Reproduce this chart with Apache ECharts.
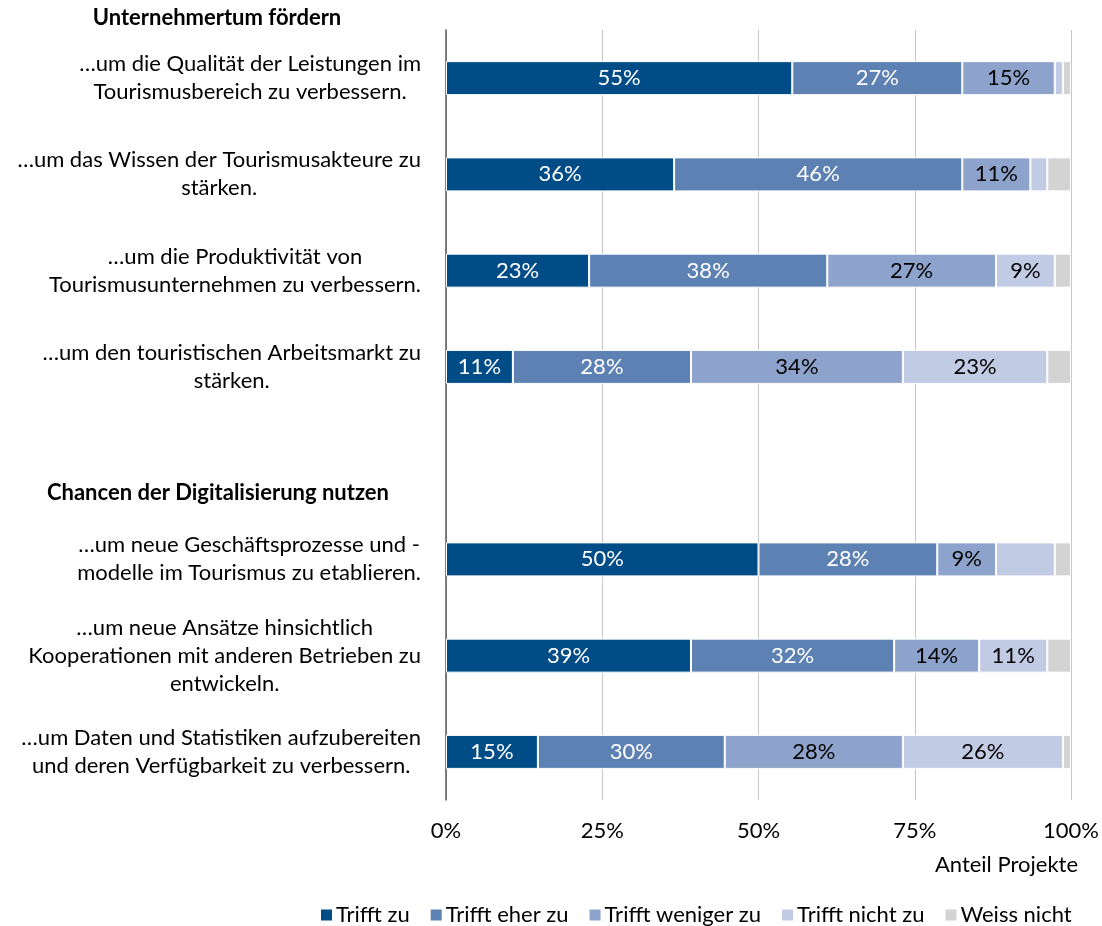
<!DOCTYPE html>
<html>
<head>
<meta charset="utf-8">
<script src="https://cdn.jsdelivr.net/npm/echarts@6/dist/echarts.min.js"></script>
<style>
  html, body { margin: 0; padding: 0; background: #fff; }
  #main { width: 1102px; height: 926px; }
</style>
</head>
<body>
<div id="main"></div>
<script>
// Kategorien (leere Zeile trennt die beiden Gruppen)
const categories = [
  '…um die Qualität der Leistungen im\nTourismusbereich zu verbessern.',
  '…um das Wissen der Tourismusakteure zu\nstärken.',
  '…um die Produktivität von\nTourismusunternehmen zu verbessern.',
  '…um den touristischen Arbeitsmarkt zu\nstärken.',
  '',
  '…um neue Geschäftsprozesse und -\nmodelle im Tourismus zu etablieren.',
  '…um neue Ansätze hinsichtlich\nKooperationen mit anderen Betrieben zu\nentwickeln.',
  '…um Daten und Statistiken aufzubereiten\nund deren Verfügbarkeit zu verbessern.'
]
const groupTitles = ['Unternehmertum fördern', 'Chancen der Digitalisierung nutzen']
const seriesNames = ['Trifft zu', 'Trifft eher zu', 'Trifft weniger zu', 'Trifft nicht zu', 'Weiss nicht']

// Anteile in %
const trifftZu = [55.4, 36.5, 22.9, 10.7, null, 50.0, 39.2, 14.7]
const trifftEher = [27.2, 46.1, 38.1, 28.5, null, 28.6, 32.5, 29.9]
const trifftWeniger = [14.8, 10.9, 27.0, 33.9, null, 9.4, 13.6, 28.5]
const trifftNicht = [1.3, 2.7, 9.4, 23.1, null, 9.4, 10.9, 25.6]
const weissNicht = [1.3, 3.8, 2.6, 3.8, null, 2.6, 3.8, 1.3]

// Beschriftungen wie im Original
const lblZu = ['55%', '36%', '23%', '11%', '', '50%', '39%', '15%']
const lblEher = ['27%', '46%', '38%', '28%', '', '28%', '32%', '30%']
const lblWeniger = ['15%', '11%', '27%', '34%', '', '9%', '14%', '28%']
const lblNicht = ['', '', '9%', '23%', '', '', '11%', '26%']
const lblWeiss = ['', '', '', '', '', '', '', '']

const xTicks = [0, 25, 50, 75, 100]

const colors = ['#004c87', '#5d81b3', '#8ea3cb', '#c1cbe4', '#d3d3d3']
const font = 'Lato'
const fs = 22

const chart = echarts.init(document.getElementById('main'))

function makeSeries(name, data, labels, color, labelColor) {
  return {
    name: name,
    type: 'bar',
    stack: 'total',
    barWidth: 34,
    data: data,
    itemStyle: { color: color, borderColor: '#fff', borderWidth: 1 },
    label: {
      show: true,
      position: 'inside',
      color: labelColor,
      fontFamily: font,
      fontSize: fs,
      formatter: p => labels[p.dataIndex]
    },
    emphasis: { disabled: true }
  }
}

const option = {
  animation: false,
  color: colors,
  grid: { left: 446, right: 31, top: 30, bottom: 126, containLabel: false },
  xAxis: {
    type: 'value',
    min: 0,
    max: 100,
    interval: 25,
    name: 'Anteil Projekte',
    nameLocation: 'end',
    nameGap: 7,
    nameTextStyle: {
      fontFamily: font,
      fontSize: fs,
      color: '#000',
      align: 'right',
      verticalAlign: 'top',
      padding: [54, 0, 0, 0]
    },
    axisLine: { show: false },
    axisTick: { show: false },
    axisLabel: {
      margin: 20,
      fontFamily: font,
      fontSize: fs,
      color: '#000',
      formatter: v => (xTicks.includes(v) ? v + '%' : '')
    },
    splitLine: { show: true, lineStyle: { color: '#c8c8c8', width: 1 } }
  },
  yAxis: {
    type: 'category',
    inverse: true,
    data: categories,
    axisLine: { show: true, lineStyle: { color: '#595959', width: 1.5 } },
    axisTick: { show: false },
    axisLabel: {
      margin: 25,
      fontFamily: font,
      fontSize: fs,
      color: '#000',
      lineHeight: 28,
      formatter: v => v.split('\n').map(l => '{c|' + l + '}').join('\n'),
      rich: {
        c: { align: 'center', fontFamily: font, fontSize: fs, color: '#000', lineHeight: 28 }
      }
    }
  },
  legend: {
    left: 314,
    top: 899,
    itemWidth: 13,
    itemHeight: 13,
    itemGap: 19,
    icon: 'rect',
    textStyle: { fontFamily: font, fontSize: fs, color: '#000', padding: [0, 0, 0, -2] },
    data: seriesNames
  },
  graphic: [
    {
      type: 'text',
      x: 217,
      y: 18,
      style: { text: groupTitles[0], fontFamily: font, fontSize: 22, fontWeight: 'bold', fill: '#000', align: 'center', verticalAlign: 'middle' }
    },
    {
      type: 'text',
      x: 218,
      y: 493,
      style: { text: groupTitles[1], fontFamily: font, fontSize: 22, fontWeight: 'bold', fill: '#000', align: 'center', verticalAlign: 'middle' }
    }
  ],
  series: [
    makeSeries(seriesNames[0], trifftZu, lblZu, colors[0], '#fff'),
    makeSeries(seriesNames[1], trifftEher, lblEher, colors[1], '#fff'),
    makeSeries(seriesNames[2], trifftWeniger, lblWeniger, colors[2], '#000'),
    makeSeries(seriesNames[3], trifftNicht, lblNicht, colors[3], '#000'),
    makeSeries(seriesNames[4], weissNicht, lblWeiss, colors[4], '#000')
  ]
}

chart.setOption(option)
</script>
</body>
</html>
